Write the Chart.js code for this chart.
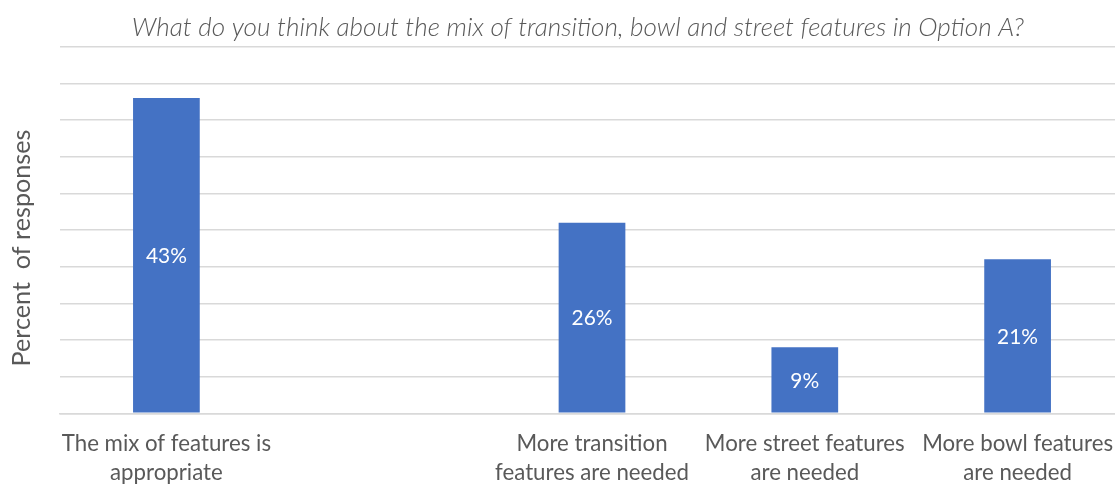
<!DOCTYPE html>
<html>
<head>
<meta charset="utf-8">
<script src="https://cdn.jsdelivr.net/npm/chart.js@4.4.1/dist/chart.umd.min.js"></script>
<style>
  html, body { margin: 0; padding: 0; background: #ffffff; overflow: hidden; }
  #wrap { position: relative; width: 1124px; height: 485px; }
</style>
</head>
<body>
<div id="wrap"><canvas id="c"></canvas></div>
<script>
// ---- data ----
const chartTitle = "What do you think about the mix of transition, bowl and street features in Option A?";
const yAxisTitle = "Percent  of responses";
const categories = [
  ["The mix of features is", "appropriate"],
  "",
  ["More transition", "features are needed"],
  ["More street features", "are needed"],
  ["More bowl features", "are needed"]
];
const percentValues = [43, null, 26, 9, 21];
const yMin = 0, yMax = 50, yStep = 5;

// ---- font fitting helper ----
const FAMILY = "Lato, 'Open Sans', 'DejaVu Sans', sans-serif";
const mctx = document.createElement('canvas').getContext('2d');
function fitSize(text, style, target) {
  mctx.font = style + " 100px " + FAMILY;
  return 100 * target / mctx.measureText(text).width;
}
const tickSize = fitSize("More street features", "normal", 200);
const titleSize = fitSize(chartTitle, "italic 300", 893);
const yTitleSize = fitSize(yAxisTitle, "normal", 237);
const labelSize = fitSize("43%", "normal", 41);

const textColor = "#595959";
const gridColor = "#d9d9d9";
const barColor = "#4472C4";

const overlayText = {
  id: 'overlayText',
  afterDraw(chart) {
    const ctx = chart.ctx;
    ctx.save();
    // title
    ctx.fillStyle = textColor;
    ctx.textAlign = 'center';
    ctx.textBaseline = 'middle';
    ctx.font = "italic 300 " + titleSize + "px " + FAMILY;
    ctx.fillText(chartTitle, 578, 28);
    // y axis title
    ctx.save();
    ctx.translate(22, 248);
    ctx.rotate(-Math.PI / 2);
    ctx.font = "normal " + yTitleSize + "px " + FAMILY;
    ctx.fillText(yAxisTitle, 0, 0);
    ctx.restore();
    // data labels
    ctx.fillStyle = "#ffffff";
    ctx.font = "normal " + labelSize + "px " + FAMILY;
    const meta = chart.getDatasetMeta(0);
    meta.data.forEach((bar, i) => {
      const v = percentValues[i];
      if (v === null || v === undefined) return;
      const p = bar.getProps(['x', 'y', 'base'], true);
      ctx.fillText(v + "%", p.x, (p.y + p.base) / 2 + 1);
    });
    ctx.restore();
  }
};

new Chart(document.getElementById('c'), {
  type: 'bar',
  data: {
    labels: categories,
    datasets: [{
      data: percentValues,
      backgroundColor: barColor,
      borderWidth: 0,
      barPercentage: 0.3135,
      categoryPercentage: 1.0
    }]
  },
  options: {
    responsive: true,
    maintainAspectRatio: false,
    animation: false,
    devicePixelRatio: 1,
    layout: { padding: { top: 46.7, left: 0, right: 0, bottom: 0 } },
    plugins: {
      legend: { display: false },
      title: { display: false },
      tooltip: { enabled: false }
    },
    scales: {
      x: {
        grid: { display: false, drawTicks: false },
        border: { display: true, color: gridColor, width: 1.5 },
        ticks: {
          color: textColor,
          font: { family: FAMILY, size: tickSize, lineHeight: 1.3 },
          padding: 16,
          maxRotation: 0,
          autoSkip: false
        },
        afterFit(s) {
          s.height = 485 - 46.7 - 366.6;
          s.paddingLeft = 0; s.paddingRight = 0;
          s.paddingTop = 0; s.paddingBottom = 0;
        }
      },
      y: {
        min: yMin,
        max: yMax,
        ticks: { display: false, stepSize: yStep },
        grid: { color: gridColor, lineWidth: 1.5, drawTicks: false },
        border: { display: false },
        afterFit(s) {
          s.width = 60;
          s.paddingTop = 0; s.paddingBottom = 0;
        }
      }
    }
  },
  plugins: [overlayText]
});
</script>
</body>
</html>
